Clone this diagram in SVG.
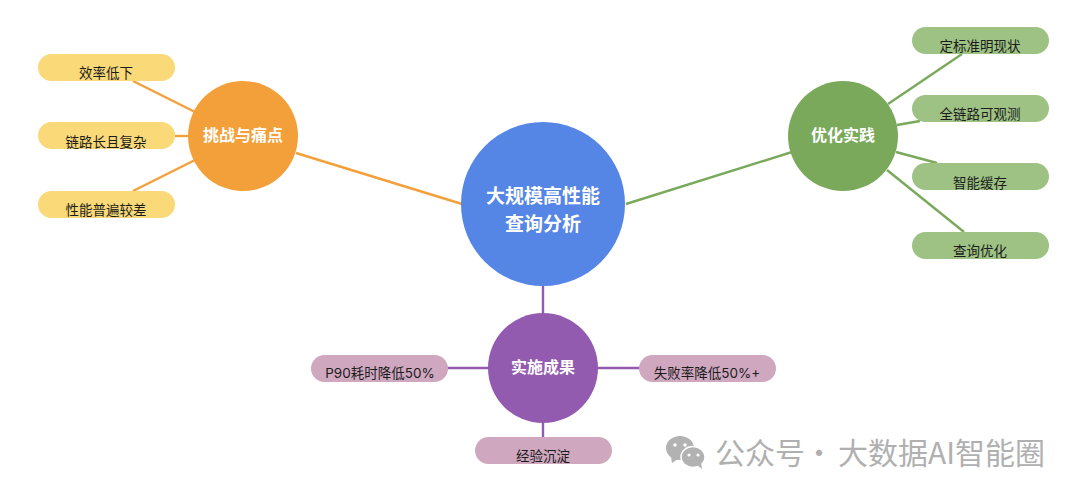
<svg xmlns="http://www.w3.org/2000/svg" width="1080" height="496" viewBox="0 0 1080 496">
<style>
text{font-family:"Noto Sans CJK SC","Liberation Sans",sans-serif;text-anchor:middle;}
.leaf{font-size:13.5px;fill:#1c1c1c;}
.lat{font-family:"Inter","Noto Sans CJK SC",sans-serif;}
.main{font-size:16px;font-weight:700;fill:#fff;}
.root{font-size:19px;font-weight:700;fill:#fff;}
.o{stroke:#f4a03a;}.g{stroke:#7aa95c;}.p{stroke:#935bb0;}
.conn line{stroke-width:2.4;fill:none;}
</style>
<rect width="1080" height="496" fill="#fff"/>
<g id="connectors" class="conn">
<line class="o" x1="296" y1="153" x2="462" y2="204"/>
<line class="o" x1="133" y1="81" x2="195" y2="112"/>
<line class="o" x1="175" y1="136" x2="190" y2="136"/>
<line class="o" x1="133" y1="191" x2="195" y2="160"/>
<line class="g" x1="626" y1="204" x2="792" y2="152"/>
<line class="g" x1="888" y1="104" x2="962" y2="54"/>
<line class="g" x1="897" y1="125" x2="920" y2="121"/>
<line class="g" x1="896" y1="152" x2="937" y2="163"/>
<line class="g" x1="887" y1="170" x2="964" y2="232"/>
<line class="p" x1="543" y1="286" x2="543" y2="315"/>
<line class="p" x1="447" y1="368" x2="490" y2="368"/>
<line class="p" x1="597" y1="368" x2="640" y2="368"/>
<line class="p" x1="543" y1="422" x2="543" y2="437"/>
</g>
<g id="root"><circle cx="543" cy="204" r="82" fill="#5585e5"/><text class="root" x="543" y="202.500">大规模高性能</text><text class="root" x="543" y="231">查询分析</text></g>
<g id="challenge"><circle cx="243" cy="136" r="55" fill="#f4a03a"/><text class="main" x="243" y="140.500">挑战与痛点</text></g>
<g id="optimize"><circle cx="843" cy="136" r="55" fill="#7aa95c"/><text class="main" x="843" y="140.500">优化实践</text></g>
<g id="result"><circle cx="543" cy="368" r="55" fill="#935bb0"/><text class="main" x="543" y="372.500">实施成果</text></g>
<g id="c1"><rect x="38" y="54" width="137" height="27" rx="13.500" fill="#f9d978"/><text class="leaf" x="106" y="78">效率低下</text></g>
<g id="c2"><rect x="38" y="122" width="137" height="27" rx="13.500" fill="#f9d978"/><text class="leaf" x="106" y="147">链路长且复杂</text></g>
<g id="c3"><rect x="38" y="191" width="137" height="27" rx="13.500" fill="#f9d978"/><text class="leaf" x="106" y="215">性能普遍较差</text></g>
<g id="o1"><rect x="912" y="27" width="137" height="27" rx="13.500" fill="#9dc283"/><text class="leaf" x="980" y="51">定标准明现状</text></g>
<g id="o2"><rect x="912" y="95" width="137" height="27" rx="13.500" fill="#9dc283"/><text class="leaf" x="980" y="119">全链路可观测</text></g>
<g id="o3"><rect x="912" y="163" width="137" height="27" rx="13.500" fill="#9dc283"/><text class="leaf" x="980" y="188">智能缓存</text></g>
<g id="o4"><rect x="912" y="232" width="137" height="27" rx="13.500" fill="#9dc283"/><text class="leaf" x="980" y="256">查询优化</text></g>
<g id="r1"><rect x="311" y="355" width="137" height="27" rx="13.500" fill="#cfa8c0"/><text class="leaf lat" x="380" y="378">P90耗时降低50%</text></g>
<g id="r2"><rect x="639" y="355" width="137" height="27" rx="13.500" fill="#cfa8c0"/><text class="leaf lat" x="707" y="378">失败率降低50%+</text></g>
<g id="r3"><rect x="475" y="437" width="137" height="27" rx="13.500" fill="#cfa8c0"/><text class="leaf" x="543" y="461">经验沉淀</text></g>
<g id="watermark">
<ellipse cx="680" cy="448" rx="14" ry="12" fill="#b2b2b2"/><path d="M671 457l1 6 6-4z" fill="#b2b2b2"/>
<ellipse cx="693" cy="457" rx="12" ry="10.500" fill="#b2b2b2" stroke="#fff" stroke-width="1.500"/><path d="M697 465l5 4-1-7z" fill="#b2b2b2"/>
<circle cx="675" cy="445" r="1.800" fill="#fff"/><circle cx="685" cy="445" r="1.800" fill="#fff"/><circle cx="689" cy="455" r="1.600" fill="#fff"/><circle cx="698" cy="455" r="1.600" fill="#fff"/>
<text y="464" style="text-anchor:start;font-size:30px;fill:#b0b0b0;"><tspan x="715">公众号</tspan><tspan x="804">·</tspan><tspan x="838">大数据AI智能圈</tspan></text>
</g>
</svg>
